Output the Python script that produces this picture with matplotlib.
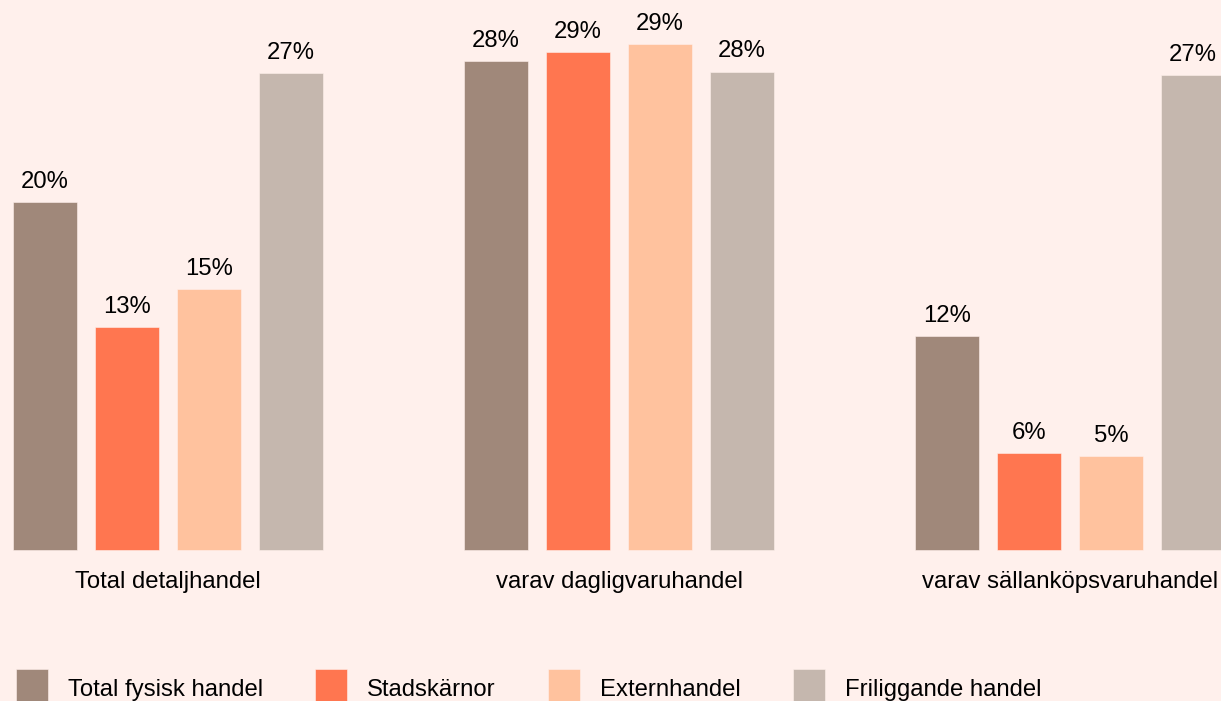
import matplotlib.pyplot as plt
import numpy as np

# Andel per kategori och handelsplats (procent)
categories = ['Total detaljhandel', 'varav dagligvaruhandel', 'varav sällanköpsvaruhandel']
series = ['Total fysisk handel', 'Stadskärnor', 'Externhandel', 'Friliggande handel']
values = [
    [20.0, 28.1, 12.3],   # Total fysisk handel
    [12.8, 28.6, 5.6],    # Stadskärnor
    [15.0, 29.1, 5.4],    # Externhandel
    [27.4, 27.5, 27.3],   # Friliggande handel
]
colors = ['#A0887A', '#FF7650', '#FFC29E', '#C5B7AE']
bg = '#FFF0EC'

plt.rcParams['font.family'] = ['Liberation Sans', 'DejaVu Sans']
plt.rcParams['font.size'] = 17.2

fig = plt.figure(figsize=(12.21, 7.01), dpi=100, facecolor=bg)
# axes: baseline at y=550 px, full width
ax = fig.add_axes([0, 1 - 550 / 701, 1, 550 / 701])
ax.set_facecolor(bg)

group_gap = 5.5
width = 0.78
centers = np.arange(len(categories)) * group_gap
for j, (name, vals) in enumerate(zip(series, values)):
    x = centers + (j - 1.5)
    bars = ax.bar(x, vals, width=width, color=colors[j], label=name,
                  edgecolor=bg, linewidth=0.4, clip_on=False)
    ax.bar_label(bars, labels=[f'{v:.0f}%' for v in vals], padding=6.5)

ax.set_xlim(-168 / 82, (1221 - 168) / 82)
ax.set_ylim(0, 550 / 17.4)
ax.set_xticks(centers)
ax.set_xticklabels(categories)
ax.tick_params(axis='x', length=0, pad=15)
ax.set_yticks([])
for s in ax.spines.values():
    s.set_visible(False)

leg = fig.legend(loc='lower left', bbox_to_anchor=(16 / 1221, -7 / 701), ncol=4,
                 frameon=False, handlelength=1.34, handleheight=2.16,
                 handletextpad=0.82, columnspacing=2.2, borderpad=0,
                 borderaxespad=0)

fig.savefig('out.png', dpi=100, facecolor=bg)
